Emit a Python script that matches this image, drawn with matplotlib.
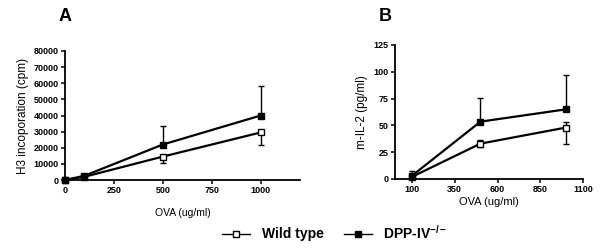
import matplotlib
matplotlib.use("Agg")
import matplotlib.pyplot as plt
from matplotlib.lines import Line2D

plt.rcParams['font.family'] = ['Liberation Sans', 'DejaVu Sans']

# Panel A: H3 incorporation
dose_a = [0, 100, 500, 1000]
wt_a = [0, 2000, 14500, 29500]
wt_a_lo = [0, 0, 3700, 7500]
wt_a_hi = [0, 0, 0, 0]
ko_a = [0, 2600, 22000, 40000]
ko_a_lo = [0, 0, 0, 0]
ko_a_hi = [0, 0, 11500, 18500]

# Panel B: m-IL-2
dose_b = [100, 500, 1000]
wt_b = [2, 33, 48]
wt_b_lo = [0, 3, 15]
wt_b_hi = [0, 3, 5]
ko_b = [3, 53.5, 65]
ko_b_lo = [0, 0, 0]
ko_b_hi = [4, 22.5, 32]

fig = plt.figure(figsize=(6, 2.5), dpi=100)
ax_a = fig.add_axes([0.108, 0.28, 0.392, 0.516])
ax_b = fig.add_axes([0.658, 0.284, 0.314, 0.536])


def style(ax):
    for s in ['top', 'right']:
        ax.spines[s].set_visible(False)
    for s in ['left', 'bottom']:
        ax.spines[s].set_linewidth(1.3)
    ax.tick_params(direction='out', length=3, width=1.1, labelsize=6.5, pad=1.5)
    for lab in ax.get_xticklabels() + ax.get_yticklabels():
        lab.set_fontweight('bold')


def draw(ax, x, y, lo, hi, face):
    ax.errorbar(x, y, yerr=[lo, hi], color='black', lw=1.6, elinewidth=1,
                capsize=2.5, capthick=1, marker='s', ms=5,
                mfc=face, mec='black', mew=1, clip_on=False, zorder=3)


draw(ax_a, dose_a, wt_a, wt_a_lo, wt_a_hi, 'white')
draw(ax_a, dose_a, ko_a, ko_a_lo, ko_a_hi, 'black')
ax_a.set_xlim(0, 1200)
ax_a.set_ylim(0, 80000)
ax_a.set_xticks([0, 250, 500, 750, 1000])
ax_a.set_yticks(range(0, 80001, 10000))
ax_a.set_ylabel('H3 incoporation (cpm)', fontsize=8.5, labelpad=3)
ax_a.set_xlabel('OVA (ug/ml)', fontsize=7.5, labelpad=9)
style(ax_a)

draw(ax_b, dose_b, wt_b, wt_b_lo, wt_b_hi, 'white')
draw(ax_b, dose_b, ko_b, ko_b_lo, ko_b_hi, 'black')
ax_b.set_xlim(0, 1100)
ax_b.set_ylim(0, 125)
ax_b.set_xticks([100, 350, 600, 850, 1100])
ax_b.set_yticks([0, 25, 50, 75, 100, 125])
ax_b.set_ylabel('m-IL-2 (pg/ml)', fontsize=8.5, labelpad=4)
ax_b.set_xlabel('OVA (ug/ml)', fontsize=8, labelpad=2)
style(ax_b)

fig.text(0.108, 0.935, 'A', fontsize=13, fontweight='bold', ha='center', va='center')
fig.text(0.642, 0.935, 'B', fontsize=13, fontweight='bold', ha='center', va='center')

handles = [
    Line2D([], [], color='black', lw=1, marker='s', ms=5, mfc='white', mec='black'),
    Line2D([], [], color='black', lw=1, marker='s', ms=5, mfc='black', mec='black'),
]
fig.legend(handles, ['Wild type', r'DPP-IV$^{\mathregular{-/-}}$'], loc='center',
           bbox_to_anchor=(0.558, 0.07), ncol=2, frameon=False,
           prop={'size': 10, 'weight': 'bold'}, handlelength=2.0,
           columnspacing=1.45, handletextpad=0.85)

fig.savefig('out.png', dpi=100)
